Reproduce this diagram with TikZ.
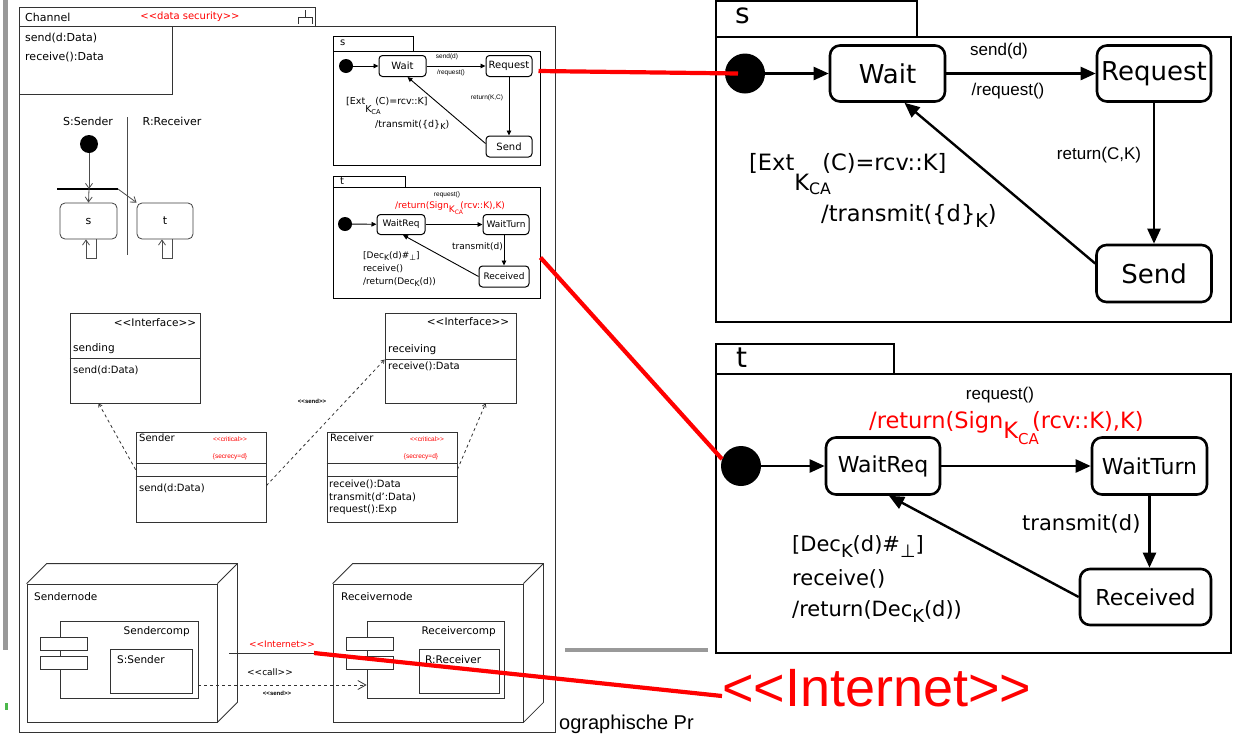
\documentclass[tikz,border=0pt]{standalone}
\usepackage{fontspec}
\usepackage{graphicx}
\setmainfont{DejaVu Sans}
\newfontfamily\arialf{Liberation Sans}
\usetikzlibrary{calc,arrows.meta,positioning}

\newcommand{\fsz}[1]{\fontsize{#1}{#1}\selectfont}
\newcommand{\stl}{<\kern0pt<}
\newcommand{\stg}{>\kern0pt>}
\newcommand{\dn}[1]{\raisebox{-0.3em}{\scalebox{0.85}{#1}}}

\tikzset{
  bigstate/.style={draw,line width=2.6pt,rounded corners=10pt,inner sep=0pt,font=\fsz{26}},
  smallstate/.style={draw,line width=1pt,rounded corners=3.5pt,inner sep=0pt,font=\fsz{10}},
  rstate/.style={draw=black!75,line width=0.8pt,rounded corners=5pt,inner sep=0pt,font=\fsz{11}},
  frm/.style={draw,line width=2.6pt,inner sep=0pt},
  sfrm/.style={draw,line width=0.9pt,inner sep=0pt},
  box/.style={draw=black!80,line width=0.8pt,inner sep=0pt},
  initdot/.style={circle,fill=black,inner sep=0pt},
  bigarrow/.style={line width=2.4pt,-{Triangle[length=15pt,width=13pt]}},
  smallarrow/.style={line width=0.9pt,-{Triangle[length=5pt,width=4.5pt]}},
  openarrow/.style={-{Straight Barb[length=5pt,width=7pt]}},
  seqline/.style={draw=black!70,line width=0.8pt},
  redlink/.style={draw=red,line width=4.2pt},
  txt/.style={inner sep=0pt},
  ltxt/.style={inner sep=0pt,font=\fsz{11}},
  ctxt/.style={inner sep=0pt,font=\fsz{10}},
  tiny/.style={inner sep=0pt,font=\arialf\fsz{6.5}},
  lbl/.style={inner sep=0pt,font=\arialf\fsz{17}}
}

\begin{document}
\begin{tikzpicture}[x=1pt,y=-1pt]
\useasboundingbox (0,0) rectangle (1248,737);
\fill[white] (0,0) rectangle (1248,737);

% slide leftovers
\fill[black!40] (3,0) rectangle (8,650);
\fill[black!40] (565,648) rectangle (708,652);
\fill[green!60!black!70] (5,703) rectangle (8,710);
\node[txt,anchor=base west,font=\arialf\fsz{20}] (foot) at (559,729) {ographische Pr};

% Channel
\draw[box] (19,7) rectangle (315,26);
\draw[box] (19,26) rectangle (555,732);
\draw[box] (19,26) rectangle (172,94);
\node[ltxt,anchor=west] (chn) at (25,17) {Channel};
\node[txt,text=red,font=\fsz{10}] (chst) at (190,17) {\stl data security\stg};
\draw[box] (298,24) |- (312,17) -- (312,24) (305,17) -- (305,10);
\node[ltxt,anchor=west] (op1) at (25,38) {send(d:Data)};
\node[ltxt,anchor=west] (op2) at (25,57) {receive():Data};

% Sender / Receiver
\node[ltxt] (lS) at (88,121) {S:Sender};
\node[ltxt] (lR) at (172,121) {R:Receiver};
\draw[seqline] (127,117) -- (127,255);
\node[initdot,minimum size=18] (qdot) at (89,144) {};
\coordinate (barL) at (57,189);
\coordinate (barR) at (118,189);
\draw[line width=1.8pt] (barL) -- (barR);
\node[rstate,minimum width=57,minimum height=36] (sbox) at (88.5,221) {s};
\node[rstate,minimum width=56,minimum height=36] (tbox) at (165,221) {t};
\draw[seqline,openarrow] (qdot) -- (qdot |- barL);
\draw[seqline,openarrow] (qdot |- barL) -- (sbox.north);
\draw[seqline,openarrow] (barR) -- (tbox.north west);
\draw[seqline,openarrow] ([xshift=7.5pt]sbox.south) -- ++(0,19) -- ++(-10,0) -- ++(0,-19);
\draw[seqline,openarrow] ([xshift=7pt]tbox.south) -- ++(0,19) -- ++(-10,0) -- ++(0,-19);

% small s
\node[sfrm,minimum width=80,minimum height=15] (stab) at (373,43.5) {};
\node[txt,anchor=west,font=\fsz{10}] (sname) at (340,43) {s};
\node[sfrm,minimum width=207,minimum height=114] (sframe) at (436.5,108) {};
\node[initdot,minimum size=14] (sdot) at (346,66) {};
\node[smallstate,minimum width=47,minimum height=21] (swait) at (402.5,66) {Wait};
\node[smallstate,minimum width=46,minimum height=21] (sreq) at (509,66) {Request};
\node[smallstate,minimum width=46,minimum height=21] (ssend) at (509,146.5) {Send};
\draw[smallarrow] (sdot) -- (swait);
\draw[smallarrow] (swait) -- (sreq);
\draw[smallarrow] (sreq) -- (ssend);
\draw[smallarrow] ([yshift=3pt]ssend.west) -- ([xshift=5pt]swait.south);
\node[tiny] (ssd) at (447,57) {send(d)};
\node[tiny] (srq) at (451,73) {/request()};
\node[tiny] (sret) at (487,98) {return(K,C)};
\node[txt,anchor=base west,font=\fsz{9.5}] (sext) at (346,104) {[Ext\makebox[10pt][l]{\raisebox{-0.9em}{K\textsubscript{CA}}}(C)=rcv::K]};
\node[txt,anchor=base west,font=\fsz{9.5}] (strm) at (375,127) {/transmit(\{d\}\dn{K})};

% small t
\node[sfrm,minimum width=72,minimum height=11] (ttab) at (369,181.5) {};
\node[txt,anchor=west,font=\fsz{10}] (tname) at (340,181) {t};
\node[sfrm,minimum width=207,minimum height=111] (tframe) at (436.5,242.5) {};
\node[initdot,minimum size=14] (tdot) at (345,224) {};
\node[smallstate,font=\fsz{9},minimum width=48,minimum height=20] (twreq) at (401,224.5) {WaitReq};
\node[smallstate,font=\fsz{9},minimum width=46,minimum height=20] (twturn) at (506,224.5) {WaitTurn};
\node[smallstate,font=\fsz{9},minimum width=50,minimum height=21] (trecv) at (504,276.5) {Received};
\draw[smallarrow] (tdot) -- (twreq);
\draw[smallarrow] (twreq) -- (twturn);
\draw[smallarrow] (twturn.south -| trecv) -- (trecv.north);
\draw[smallarrow] (trecv.west) -- ([xshift=2pt]twreq.south);
\node[tiny] (trq) at (447,195) {request()};
\node[txt,anchor=base west,text=red,font=\fsz{9}] (tsign) at (395,208) {/return(Sign\raisebox{-0.45em}{K}\raisebox{-0.75em}{\fsz{6}CA}\hspace{-0.3em}(rcv::K),K)};
\node[txt,anchor=base east,font=\fsz{9}] (ttrm) at (503,249) {transmit(d)};
\node[txt,anchor=base west,font=\fsz{9}] (tg1) at (363,258) {[Dec\dn{K}(d)\#\dn{⊥}]};
\node[txt,anchor=base west,font=\fsz{9}] (tg2) at (363,271) {receive()};
\node[txt,anchor=base west,font=\fsz{9}] (tg3) at (363,284) {/return(Dec\dn{K}(d))};

% interfaces and classes
\node[box,minimum width=130,minimum height=90] (sending) at (135,358) {};
\draw[box] ($(sending.north west)+(0,46)$) -- ($(sending.north east)+(0,46)$);
\node[ltxt,font=\fsz{10.5}] (i1) at (155,323) {\stl Interface\stg};
\node[ltxt,font=\fsz{10.5},anchor=west] (sn1) at (73,349) {sending};
\node[ctxt,anchor=west] (sn2) at (73,370) {send(d:Data)};

\node[box,minimum width=131,minimum height=90] (receiving) at (450.5,358) {};
\draw[box] ($(receiving.north west)+(0,47)$) -- ($(receiving.north east)+(0,47)$);
\node[ltxt,font=\fsz{10.5}] (i2) at (468,322) {\stl Interface\stg};
\node[ltxt,font=\fsz{10.5},anchor=west] (rc1) at (388,350) {receiving};
\node[ctxt,anchor=west] (rc2) at (388,366) {receive():Data};

\node[box,minimum width=130,minimum height=90] (sender) at (201,477) {};
\draw[box] ($(sender.north west)+(0,32)$) -- ($(sender.north east)+(0,32)$);
\draw[box] ($(sender.north west)+(0,45)$) -- ($(sender.north east)+(0,45)$);
\node[ctxt,anchor=west] (se1) at (139,438) {Sender};
\node[tiny,text=red] (se2) at (230,439) {\stl critical\stg};
\node[tiny,text=red] (se3) at (230,457) {\{secrecy=d\}};
\node[ctxt,anchor=west] (se4) at (139,488) {send(d:Data)};

\node[box,minimum width=130,minimum height=90] (receiver) at (392,477) {};
\draw[box] ($(receiver.north west)+(0,32)$) -- ($(receiver.north east)+(0,32)$);
\draw[box] ($(receiver.north west)+(0,45)$) -- ($(receiver.north east)+(0,45)$);
\node[ctxt,anchor=west] (re1) at (330,438) {Receiver};
\node[tiny,text=red] (re2) at (427,439) {\stl critical\stg};
\node[tiny,text=red] (re3) at (421,457) {\{secrecy=d\}};
\node[ctxt,anchor=west] (re4) at (329,484) {receive():Data};
\node[ctxt,anchor=west] (re5) at (329,497) {transmit(d':Data)};
\node[ctxt,anchor=west] (re6) at (329,510) {request():Exp};

\draw[box,dashed,-{Straight Barb[length=3pt,width=4pt]}] ($(sender.north west)+(0,38)$) -- ($(sending.south west)+(29,0)$);
\draw[box,dashed,-{Straight Barb[length=3pt,width=4pt]}] ($(sender.north east)+(0,54)$) -- ($(receiving.north west)+(0,47)$);
\draw[box,dashed,-{Straight Barb[length=3pt,width=4pt]}] ($(receiver.north east)+(0,38)$) -- ($(receiving.south west)+(101,0)$);
\node[tiny,font=\arialf\bfseries\fsz{6}] (snd1) at (312,401) {\stl send\stg};

% deployment
\node[box,minimum width=190,minimum height=138] (snode) at (122,653) {};
\draw[box] (snode.north west) -- ++(20,-20) -- ($(snode.north east)+(20,-20)$) -- ($(snode.south east)+(20,-20)$) -- (snode.south east);
\draw[box] (snode.north east) -- ++(20,-20);
\node[ltxt,font=\fsz{10.5},anchor=west] (sn) at (34,597) {Sendernode};
\node[box,minimum width=138,minimum height=77] (scomp) at (129,659.5) {};
\node[box,fill=white,minimum width=47,minimum height=13] (sc1) at (63.5,643.5) {};
\node[box,fill=white,minimum width=47,minimum height=13] (sc2) at (63.5,662.5) {};
\node[ltxt,font=\fsz{10.5},anchor=east] (scn) at (190,632) {Sendercomp};
\node[box,minimum width=82,minimum height=44] (sobj) at (151,671) {};
\node[ltxt,font=\fsz{10.5},anchor=west] (sobjn) at (117,660) {S:Sender};

\node[box,minimum width=190,minimum height=138] (rnode) at (428,653) {};
\draw[box] (rnode.north west) -- ++(20,-20) -- ($(rnode.north east)+(20,-20)$) -- ($(rnode.south east)+(20,-20)$) -- (rnode.south east);
\draw[box] (rnode.north east) -- ++(20,-20);
\node[ltxt,font=\fsz{10.5},anchor=west] (rn) at (341,597) {Receivernode};
\node[box,minimum width=137,minimum height=77] (rcomp) at (435.5,659.5) {};
\node[box,fill=white,minimum width=47,minimum height=13] (rc1) at (369.5,643.5) {};
\node[box,fill=white,minimum width=47,minimum height=13] (rc2) at (369.5,662.5) {};
\node[ltxt,font=\fsz{10.5},anchor=east] (rcn) at (496,632) {Receivercomp};
\node[box,minimum width=80,minimum height=44] (robj) at (459,671) {};
\node[ltxt,font=\fsz{10.5},anchor=west] (robjn) at (425,660) {R:Receiver};

\coordinate (lnkS) at (229,653);
\draw[box] (lnkS) -- (rnode.west);
\node[txt,text=red,font=\fsz{9}] (inet) at (282,644) {\stl Internet\stg};
\node[txt,font=\fsz{9}] (call) at (270,672) {\stl call\stg};
\draw[box,dashed,-{Straight Barb[length=8pt,width=9pt]}] ([yshift=-25.5pt]scomp.east) -- ([yshift=-25.5pt]rcomp.west);
\node[tiny,font=\arialf\bfseries\fsz{6}] (snd2) at (277,693) {\stl send\stg};

% big s
\node[frm,minimum width=201,minimum height=36] (Stab) at (816.5,19) {};
\node[txt,anchor=west,font=\fsz{28}] (Sname) at (735,16) {s};
\node[frm,minimum width=515,minimum height=285] (Sframe) at (973.5,179.5) {};
\node[initdot,minimum size=40] (Sdot) at (745,73.5) {};
\node[bigstate,minimum width=115,minimum height=56] (Swait) at (887.5,73.5) {Wait};
\node[bigstate,minimum width=114,minimum height=56] (Sreq) at (1154,73.5) {Request};
\node[bigstate,minimum width=115,minimum height=57] (Ssend) at (1154,273.5) {Send};
\draw[bigarrow] (Sdot) -- (Swait);
\draw[bigarrow] (Swait) -- (Sreq);
\draw[bigarrow] (Sreq) -- (Ssend);
\draw[bigarrow] ([yshift=10pt]Ssend.west) -- ([xshift=17pt]Swait.south);
\node[lbl] (Ssd) at (999,51) {send(d)};
\node[lbl] (Srq) at (1008,91) {/request()};
\node[lbl] (Sret) at (1099,155) {return(C,K)};
\node[txt,anchor=base west,font=\fsz{22.5}] (Sext) at (749,170) {[Ext\makebox[28pt][l]{\raisebox{-0.9em}{K\textsubscript{CA}}}(C)=rcv::K]};
\node[txt,anchor=base west,font=\fsz{22.5}] (Strm) at (821,221) {/transmit(\{d\}\dn{K})};

% big t
\node[frm,minimum width=178,minimum height=30] (Ttab) at (805,359) {};
\node[txt,anchor=west,font=\fsz{28}] (Tname) at (736,358) {t};
\node[frm,minimum width=515,minimum height=279] (Tframe) at (973.5,513.5) {};
\node[initdot,minimum size=40] (Tdot) at (741,466) {};
\node[bigstate,font=\fsz{22},minimum width=114,minimum height=57] (Twreq) at (883,466) {WaitReq};
\node[bigstate,font=\fsz{22},minimum width=115,minimum height=57] (Twturn) at (1149.5,466) {WaitTurn};
\node[bigstate,font=\fsz{22},minimum width=131,minimum height=56] (Trecv) at (1145.5,597) {Received};
\draw[bigarrow] (Tdot) -- (Twreq);
\draw[bigarrow] (Twreq) -- (Twturn);
\draw[bigarrow] (Twturn.south) -- (Twturn.south |- Trecv.north);
\draw[bigarrow] (Trecv.west) -- ([xshift=6pt]Twreq.south);
\node[lbl] (Trq) at (1000,395) {request()};
\node[txt,anchor=base west,text=red,font=\fsz{22.5}] (Tsign) at (869,428) {/return(Sign\raisebox{-0.45em}{K}\raisebox{-0.75em}{\fsz{15}CA}\hspace{-0.3em}(rcv::K),K)};
\node[txt,anchor=base west,font=\fsz{21}] (Ttrm) at (1022,530) {transmit(d)};
\node[txt,anchor=base west,font=\fsz{21}] (Tg1) at (792,551) {[Dec\dn{K}(d)\#\dn{⊥}]};
\node[txt,anchor=base west,font=\fsz{21}] (Tg2) at (792,585) {receive()};
\node[txt,anchor=base west,font=\fsz{21}] (Tg3) at (792,616) {/return(Dec\dn{K}(d))};

% red links
\node[txt,anchor=base west,text=red,font=\arialf\fsz{54}] (Inet) at (722,706) {\stl Internet\stg};
\coordinate (inetpt) at (314,653);
\draw[redlink] ([shift={(6pt,-5pt)}]sreq.east) -- ([xshift=-7pt]Sdot.center);
\draw[redlink] ([yshift=-15pt]tframe.east) -- (Tdot.160);
\draw[redlink] (inetpt) -- ([yshift=10pt]Inet.base west);
\end{tikzpicture}
\end{document}
